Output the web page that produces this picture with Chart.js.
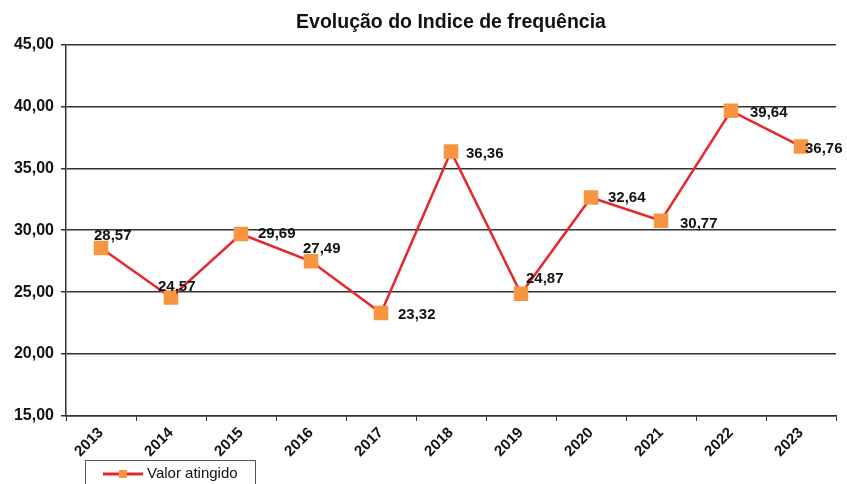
<!DOCTYPE html>
<html lang="pt">
<head>
    <meta charset="UTF-8">
    <title>Evolução do Indice de frequência</title>
    <script src="https://cdn.jsdelivr.net/npm/chart.js"></script>
    <style>
        body {
            margin: 0;
            padding: 0;
            background: #fff;
        }
        .chart-container {
            position: relative;
            width: 847px;
            height: 484px;
        }
    </style>
</head>
<body>
    <div class="chart-container">
        <canvas id="freqChart"></canvas>
    </div>

    <script>
        // data
        const years = ['2013', '2014', '2015', '2016', '2017', '2018', '2019', '2020', '2021', '2022', '2023'];
        const valorAtingido = [28.57, 24.57, 29.69, 27.49, 23.32, 36.36, 24.87, 32.64, 30.77, 39.64, 36.76];
        const yTicks = [15, 20, 25, 30, 35, 40, 45];

        // where each value label sits relative to its point (px)
        const labelOffsets = [[-7, -12], [-13, -11], [17, 0], [-8, -12], [17, 2], [15, 2],
                              [5, -15], [17, 0], [19, 3], [19, 2], [4, 2]];

        const sans = "'Liberation Sans', Arial, sans-serif";
        const fmt = v => v.toFixed(2).replace('.', ',');

        // value labels next to the points
        const valueLabels = {
            id: 'valueLabels',
            afterDatasetsDraw(chart) {
                const ctx = chart.ctx;
                const meta = chart.getDatasetMeta(0);
                ctx.save();
                ctx.font = 'bold 15px ' + sans;
                ctx.fillStyle = '#111';
                ctx.textAlign = 'left';
                ctx.textBaseline = 'middle';
                meta.data.forEach((pt, i) => {
                    const off = labelOffsets[i];
                    ctx.fillText(fmt(valorAtingido[i]), pt.x + off[0], pt.y + off[1]);
                });
                ctx.restore();
            }
        };

        // boxed legend in the lower left corner
        const boxLegend = {
            id: 'boxLegend',
            afterDraw(chart) {
                const ctx = chart.ctx;
                const ds = chart.data.datasets[0];
                ctx.save();
                ctx.strokeStyle = '#555';
                ctx.lineWidth = 1;
                ctx.strokeRect(85.5, 460.5, 170, 40);
                ctx.strokeStyle = ds.borderColor;
                ctx.lineWidth = 3;
                ctx.beginPath();
                ctx.moveTo(103, 474);
                ctx.lineTo(143, 474);
                ctx.stroke();
                ctx.fillStyle = ds.pointBackgroundColor;
                ctx.fillRect(119, 470, 8, 8);
                ctx.fillStyle = '#111';
                ctx.font = '15px ' + sans;
                ctx.textBaseline = 'middle';
                ctx.fillText(ds.label, 147, 474);
                ctx.restore();
            }
        };

        new Chart(document.getElementById('freqChart'), {
            type: 'line',
            data: {
                labels: years,
                datasets: [{
                    label: 'Valor atingido',
                    data: valorAtingido,
                    borderColor: '#e8262c',
                    borderWidth: 2.5,
                    pointStyle: 'rect',
                    pointRadius: 8.5,
                    pointHoverRadius: 8.5,
                    pointBackgroundColor: '#f79540',
                    pointBorderColor: '#f79540',
                    tension: 0
                }]
            },
            options: {
                responsive: true,
                maintainAspectRatio: false,
                animation: false,
                layout: { padding: { left: 0, right: 10, top: 0, bottom: 0 } },
                plugins: {
                    legend: { display: false },
                    tooltip: { enabled: false },
                    title: {
                        display: true,
                        fullSize: false,
                        text: 'Evolução do Indice de frequência',
                        color: '#111',
                        font: { family: sans, size: 19.5, weight: 'bold' },
                        padding: { top: 11, bottom: 10 }
                    }
                },
                scales: {
                    x: {
                        offset: true,
                        afterFit: s => { s.height = 68; },
                        border: { color: '#333', width: 1.5 },
                        grid: { drawOnChartArea: false, drawTicks: true, tickLength: 5, offset: true, color: '#333' },
                        ticks: {
                            color: '#111',
                            minRotation: 45,
                            maxRotation: 45,
                            padding: 3,
                            font: { family: sans, size: 15, weight: 'bold' }
                        }
                    },
                    y: {
                        min: 15,
                        max: 45,
                        afterFit: s => { s.width = 66; },
                        afterBuildTicks: s => { s.ticks = yTicks.map(v => ({ value: v })); },
                        border: { color: '#333', width: 1.5 },
                        grid: { color: '#333', lineWidth: 1.5, tickLength: 5 },
                        ticks: {
                            color: '#111',
                            padding: 7,
                            font: { family: sans, size: 16, weight: 'bold' },
                            callback: v => fmt(v)
                        }
                    }
                }
            },
            plugins: [valueLabels, boxLegend]
        });
    </script>
</body>
</html>
